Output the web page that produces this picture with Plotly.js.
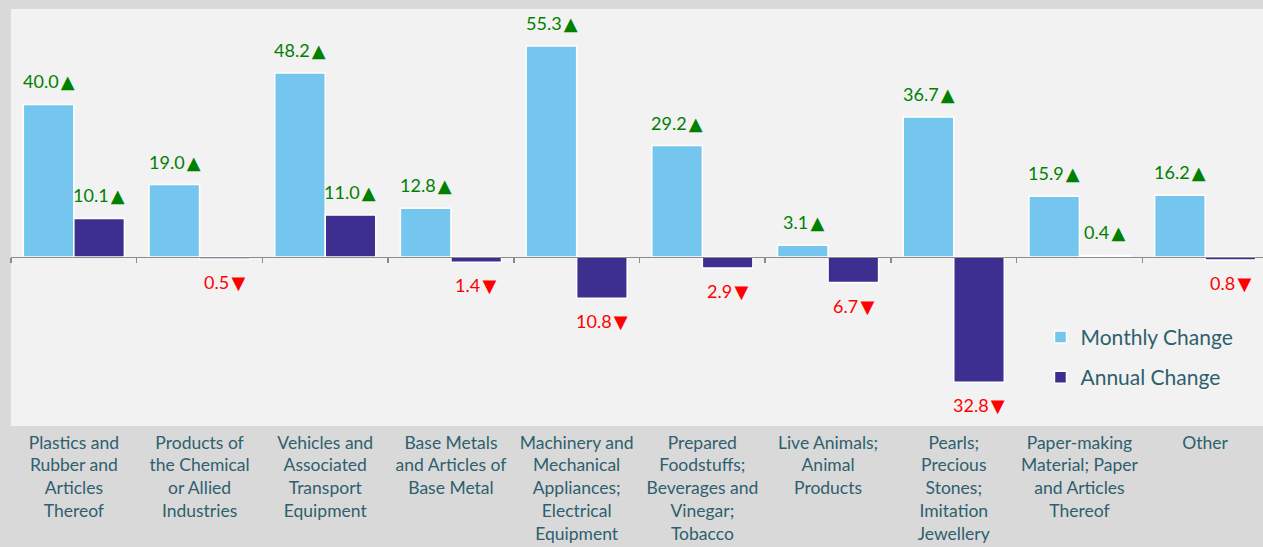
<!DOCTYPE html>
<html>
<head>
<meta charset="utf-8">
<script src="https://cdn.plot.ly/plotly-3.0.1.min.js"></script>
<style>
html,body{margin:0;padding:0;overflow:hidden;background:#d9d9d9;}
#chart{width:1268px;height:547px;}
</style>
</head>
<body>
<div id="chart"></div>
<script>
const categories = [
  "Plastics and<br>Rubber and<br>Articles<br>Thereof",
  "Products of<br>the Chemical<br>or Allied<br>Industries",
  "Vehicles and<br>Associated<br>Transport<br>Equipment",
  "Base Metals<br>and Articles of<br>Base Metal",
  "Machinery and<br>Mechanical<br>Appliances;<br>Electrical<br>Equipment",
  "Prepared<br>Foodstuffs;<br>Beverages and<br>Vinegar;<br>Tobacco",
  "Live Animals;<br>Animal<br>Products",
  "Pearls;<br>Precious<br>Stones;<br>Imitation<br>Jewellery",
  "Paper-making<br>Material; Paper<br>and Articles<br>Thereof",
  "Other"
];
const monthlyChange = [40.0, 19.0, 48.2, 12.8, 55.3, 29.2, 3.1, 36.7, 15.9, 16.2];
const annualChange  = [10.1, -0.5, 11.0, -1.4, -10.8, -2.9, -6.7, -32.8, 0.4, -0.8];
const seriesNames = ["Monthly Change", "Annual Change"];

const FONT = "Lato, 'Noto Sans', sans-serif";
const TEAL = "#2e5f6e";

function labelText(v){
  return Math.abs(v).toFixed(1) + "\u2009<span style='font-family:DejaVu Sans'>" + (v >= 0 ? "▲" : "▼") + "</span>";
}

const traces = [
  {type:"bar", name:seriesNames[0], x:categories, y:monthlyChange, legendgroup:"m",
   marker:{color:"#74c6ef", line:{color:"#ffffff", width:1.5}}, hoverinfo:"y"},
  {type:"bar", name:seriesNames[1], x:categories, y:annualChange, legendgroup:"a",
   marker:{color:"#3c2f8f", line:{color:"#ffffff", width:1.5}}, hoverinfo:"y"}
];

const annotations = [];
[monthlyChange, annualChange].forEach((arr, s) => {
  arr.forEach((v, i) => {
    annotations.push({
      x: categories[i], y: v, xref:"x", yref:"y",
      text: labelText(v), showarrow:false,
      xshift: s === 0 ? -25 : 25,
      yshift: v >= 0 ? 23 : -23,
      font:{family:FONT, size:18, color: v >= 0 ? "#008000" : "#ff0000"}
    });
  });
});

const yMin = -44.3, yMax = 65;
const zeroPos = (0 - yMin) / (yMax - yMin);

const layout = {
  width:1268, height:547,
  paper_bgcolor:"#d9d9d9", plot_bgcolor:"#f2f2f2",
  margin:{l:11, r:0, t:9, b:121},
  barmode:"group", bargap:0.196, bargroupgap:0,
  showlegend:true,
  legend:{x:0.819, y:0.262, xanchor:"left", yanchor:"top", bgcolor:"rgba(0,0,0,0)",
          font:{family:FONT, size:21, color:TEAL}, tracegroupgap:10, itemwidth:30},
  xaxis:{type:"category", showline:false, ticks:"", showgrid:false, zeroline:false,
         tickfont:{family:FONT, size:17.5, color:TEAL}, ticklabelstandoff:4,
         fixedrange:true, automargin:false},
  xaxis2:{type:"category", matches:"x", overlaying:"x", anchor:"free", position:zeroPos,
          showline:true, linecolor:"#8c8c8c", linewidth:1.5, ticks:"outside", tickson:"boundaries",
          ticklen:5, tickcolor:"#8c8c8c", tickwidth:1.5, showticklabels:false, showgrid:false, zeroline:false},
  yaxis:{range:[yMin, yMax], visible:false, showgrid:false, zeroline:false, fixedrange:true},
  annotations: annotations,
  font:{family:FONT}
};

// invisible trace so the zero-line axis (xaxis2) is drawn
traces.push({type:"bar", x:categories, y:categories.map(()=>0), xaxis:"x2", showlegend:false,
  hoverinfo:"skip", marker:{color:"rgba(0,0,0,0)"}});

Plotly.newPlot("chart", traces, layout, {displayModeBar:false, staticPlot:true});
</script>
</body>
</html>
